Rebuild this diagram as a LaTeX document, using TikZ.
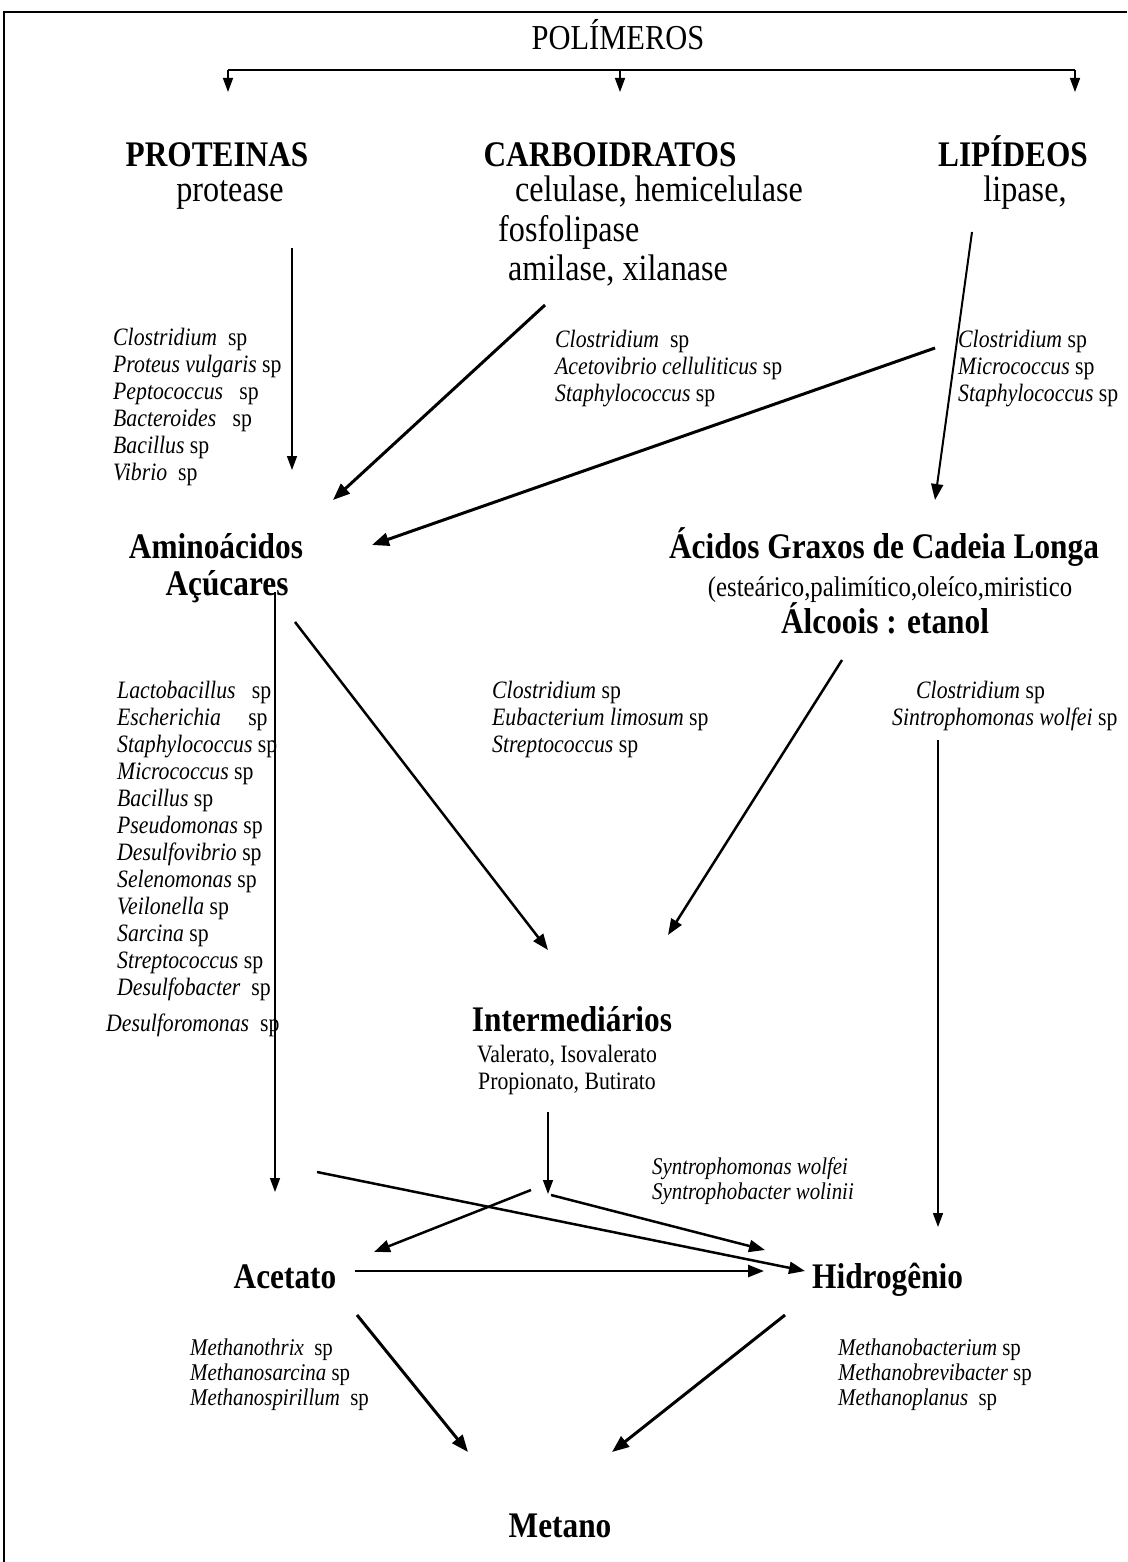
\documentclass[tikz,border=0pt]{standalone}
\usepackage{fontspec}
\setmainfont{Liberation Serif}[FakeStretch=0.87]
\usetikzlibrary{arrows.meta}
\begin{document}
\begin{tikzpicture}[x=1pt,y=-1pt,
  hdr/.style={font=\fontsize{36}{40}\selectfont\bfseries, inner sep=0, anchor=base},
  enz/.style={font=\fontsize{37}{40}\selectfont, inner sep=0, anchor=base},
  mid/.style={font=\fontsize{25}{27}\selectfont, inner sep=0, anchor=base},
  spc/.style={font=\fontsize{25}{27}\selectfont, align=left, anchor=north west, inner sep=0},
  spm/.style={font=\fontsize{24}{25}\selectfont, align=left, anchor=north west, inner sep=0},
  thinarr/.style={line width=1.5pt, -{Triangle[length=14pt,width=10pt]}},
  thickarr/.style={line width=3pt, -{Triangle[length=17pt,width=13pt]}},
  medarr/.style={line width=2.5pt, -{Triangle[length=16pt,width=12pt]}},
]
\useasboundingbox (0,0) rectangle (1127,1562);
% frame
\draw[line width=2pt] (4,1562) -- (4,12) -- (1127,12);

% top level
\node[font=\fontsize{35}{40}\selectfont, inner sep=0, anchor=base] (pol) at (618,50) {POLÍMEROS};
\coordinate (bl) at (228,70);
\coordinate (bm) at (620,70);
\coordinate (br) at (1075,70);
\coordinate (tl) at (228,92);
\coordinate (tm) at (620,92);
\coordinate (tr) at (1075,92);
\draw[line width=2pt] (bl) -- (br);
\draw[thinarr] (bl) -- (tl);
\draw[thinarr] (bm) -- (tm);
\draw[thinarr] (br) -- (tr);

% polymer classes and their enzymes
\node[hdr] (prot) at (217,167) {PROTEINAS};
\node[enz] (prote) at (230,202) {protease};
\node[hdr] (carb) at (610,167) {CARBOIDRATOS};
\node[enz] (cel) at (659,202) {celulase, hemicelulase};
\node[enz, anchor=base west] (fos) at (498,242) {fosfolipase};
\node[enz] (ami) at (618,280) {amilase, xilanase};
\node[hdr] (lip) at (1013,167) {LIPÍDEOS};
\node[enz] (lipa) at (1025,202) {lipase,};

% hydrolysis arrows
\coordinate (p1) at (292,248);  \coordinate (p2) at (292,470);
\coordinate (c1) at (545,305);  \coordinate (c2) at (333,500);
\coordinate (l1) at (935,348);  \coordinate (l2) at (372,545);
\coordinate (l3) at (972,232);  \coordinate (l4) at (935,500);
\draw[thinarr] (p1) -- (p2);
\draw[thickarr] (c1) -- (c2);
\draw[thickarr] (l1) -- (l2);
\draw[medarr, line width=2pt] (l3) -- (l4);

% hydrolytic bacteria
\node[spc] (sp1) at (113,328) {\textit{Clostridium}\ \ sp\\
  \textit{Proteus vulgaris} sp\\
  \textit{Peptococcus}\ \ \ sp\\
  \textit{Bacteroides}\ \ \ sp\\
  \textit{Bacillus} sp\\
  \textit{Vibrio}\ \ sp};
\node[spc] (sp2) at (555,330) {\textit{Clostridium}\ \ sp\\
  \textit{Acetovibrio celluliticus} sp\\
  \textit{Staphylococcus} sp};
\node[spc] (sp3) at (958,330) {\textit{Clostridium} sp\\
  \textit{Micrococcus} sp\\
  \textit{Staphylococcus} sp};

% hydrolysis products
\node[hdr] (amino) at (216,558) {Aminoácidos};
\node[hdr] (acuc) at (227,595) {Açúcares};
\node[hdr] (acgr) at (884,558) {Ácidos Graxos de Cadeia Longa};
\node[font=\fontsize{28.5}{30}\selectfont, inner sep=0, anchor=base] (ester) at (890,596) {(esteárico,palimítico,oleíco,miristico};
\node[hdr] (alc) at (885,633) {Álcoois : etanol};

% acidogenesis arrows
\coordinate (d1) at (275,592);  \coordinate (d2) at (275,1192);
\coordinate (e1) at (295,622);  \coordinate (e2) at (548,950);
\coordinate (f1) at (842,660);  \coordinate (f2) at (668,935);
\coordinate (g1) at (938,740);  \coordinate (g2) at (938,1227);
\draw[thinarr] (d1) -- (d2);
\draw[medarr] (e1) -- (e2);
\draw[medarr] (f1) -- (f2);
\draw[thinarr] (g1) -- (g2);

% acidogenic bacteria
\node[spc] (sp4) at (117,681) {\textit{Lactobacillus}\ \ \ sp\\
  \textit{Escherichia}\ \ \ \ \ sp\\
  \textit{Staphylococcus} sp\\
  \textit{Micrococcus} sp\\
  \textit{Bacillus} sp\\
  \textit{Pseudomonas} sp\\
  \textit{Desulfovibrio} sp\\
  \textit{Selenomonas} sp\\
  \textit{Veilonella} sp\\
  \textit{Sarcina} sp\\
  \textit{Streptococcus} sp\\
  \textit{Desulfobacter}\ \ sp};
\node[spc] (sp4b) at (106,1014) {\textit{Desulforomonas}\ \ sp};
\node[spc] (sp5) at (492,681) {\textit{Clostridium} sp\\
  \textit{Eubacterium limosum} sp\\
  \textit{Streptococcus} sp};
\node[spc] (sp6) at (892,681) {\hspace*{24pt}\textit{Clostridium} sp\\
  \textit{Sintrophomonas wolfei} sp};

% intermediates
\node[hdr] (inter) at (572,1031) {Intermediários};
\node[mid] (val) at (567,1062) {Valerato, Isovalerato};
\node[mid] (prop) at (567,1089) {Propionato, Butirato};
\coordinate (h1) at (548,1112);  \coordinate (h2) at (548,1194);
\draw[thinarr] (h1) -- (h2);
\node[spm] (syn) at (652,1157) {\textit{Syntrophomonas wolfei}\\
  \textit{Syntrophobacter wolinii}};

% acetogenesis
\node[hdr] (acet) at (285,1288) {Acetato};
\node[hdr, anchor=base west] (hidr) at (812,1288) {Hidrogênio};
\coordinate (k1) at (531,1190);  \coordinate (k2) at (374,1252);
\coordinate (k3) at (551,1195);  \coordinate (k4) at (765,1250);
\coordinate (k5) at (317,1172);  \coordinate (k6) at (805,1271);
\coordinate (k7) at (355,1271);  \coordinate (k8) at (764,1271);
\draw[medarr] (k1) -- (k2);
\draw[medarr] (k3) -- (k4);
\draw[medarr] (k5) -- (k6);
\draw[medarr] (k7) -- (k8);

% methanogenesis
\coordinate (m1) at (357,1315);  \coordinate (m2) at (468,1452);
\coordinate (m3) at (785,1315);  \coordinate (m4) at (612,1452);
\draw[thickarr] (m1) -- (m2);
\draw[thickarr] (m3) -- (m4);
\node[spm] (sp7) at (190,1339) {\textit{Methanothrix}\ \ sp\\
  \textit{Methanosarcina} sp\\
  \textit{Methanospirillum}\ \ sp};
\node[spm] (sp8) at (838,1339) {\textit{Methanobacterium} sp\\
  \textit{Methanobrevibacter} sp\\
  \textit{Methanoplanus}\ \ sp};
\node[hdr] (met) at (560,1537) {Metano};
\end{tikzpicture}
\end{document}
